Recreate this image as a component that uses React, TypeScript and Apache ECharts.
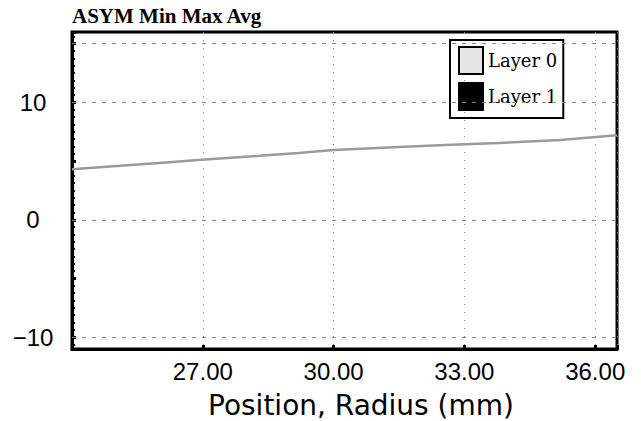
import React, { useEffect, useRef } from "react";
import * as echarts from "echarts";

const titleText = "ASYM Min Max Avg";
const xAxisTitle = "Position, Radius (mm)";
const seriesNames = ["Layer 0", "Layer 1"];
const positions = [24.0, 25.1, 26.0, 26.9, 28.3, 29.2, 30.0, 31.5, 32.7, 33.8, 35.2, 36.5];
const layer0Avg = [4.3, 4.6, 4.85, 5.1, 5.45, 5.7, 5.95, 6.2, 6.4, 6.55, 6.8, 7.2];
const layer1Avg: number[] = [];
const yGridValues = [15, 10, 0, -10];
const yLabelValues = [10, 0, -10];
const xLabelValues = [27, 30, 33, 36];

export default function App() {
  const ref = useRef<HTMLDivElement>(null);
  useEffect(() => {
    if (!ref.current) return;
    const chart = echarts.init(ref.current, undefined, { renderer: "svg" });
    chart.setOption({
      animation: false,
      backgroundColor: "#fff",
      title: {
        text: titleText,
        left: 72,
        top: 5,
        padding: 0,
        textStyle: { fontFamily: "Liberation Serif", fontWeight: "bold", fontSize: 21, color: "#000" },
      },
      legend: {
        orient: "vertical",
        left: 450,
        top: 40,
        padding: [6, 6, 7, 8],
        borderColor: "#000",
        borderWidth: 2,
        itemWidth: 24,
        itemHeight: 27,
        itemGap: 7,
        itemTextGap: 5,
        textStyle: { fontFamily: "DejaVu Serif", fontSize: 18, color: "#000" },
        data: [
          { name: seriesNames[0], icon: "rect", itemStyle: { color: "#e6e6e6", borderColor: "#000", borderWidth: 2 } },
          { name: seriesNames[1], icon: "rect", itemStyle: { color: "#000", borderColor: "#000", borderWidth: 2 } },
        ],
      },
      grid: {
        left: 72,
        top: 32,
        right: 24,
        bottom: 72,
        show: true,
        borderColor: "#000",
        borderWidth: 3,
      },
      xAxis: {
        type: "value",
        min: 24,
        max: 36.5,
        interval: 3,
        axisLine: { show: true, onZero: false, lineStyle: { color: "#000", width: 3 } },
        axisTick: { show: true, inside: true, length: 4, lineStyle: { color: "#000", width: 3 } },
        axisLabel: {
          margin: 10,
          fontFamily: "Liberation Sans",
          fontSize: 24,
          color: "#000",
          formatter: (v: number) => (xLabelValues.includes(v) ? v.toFixed(2) : ""),
        },
        splitLine: { show: true, lineStyle: { color: "#888", width: 1, type: [1, 7] } },
      },
      yAxis: {
        type: "value",
        min: -11,
        max: 16,
        splitNumber: 5,
        axisLine: { show: true, onZero: false, lineStyle: { color: "#000", width: 3 } },
        axisTick: { show: true, inside: true, length: 4, lineStyle: { color: "#000", width: 3 } },
        minorTick: { show: true, splitNumber: 8, length: 3, lineStyle: { color: "#000", width: 2 } },
        axisLabel: {
          margin: 39,
          align: "center",
          fontFamily: "Liberation Sans",
          fontSize: 24,
          color: "#000",
          formatter: (v: number) => (yLabelValues.includes(v) ? (v < 0 ? "\u2212" + Math.abs(v) : String(v)) : ""),
        },
        splitLine: { show: false },
      },
      graphic: [
        {
          type: "text",
          left: 208,
          top: 391,
          style: { text: xAxisTitle, font: "28px 'DejaVu Sans'", fill: "#000" },
        },
      ],
      series: [
        {
          name: seriesNames[0],
          type: "line",
          data: positions.map((p, i) => [p, layer0Avg[i]]),
          showSymbol: false,
          lineStyle: { color: "#9a9a9a", width: 2.5 },
          itemStyle: { color: "#e6e6e6" },
          markLine: {
            silent: true,
            symbol: "none",
            label: { show: false },
            lineStyle: { color: "#888", width: 1, type: [4, 6] },
            data: yGridValues.map((v) => ({ yAxis: v })),
          },
        },
        {
          name: seriesNames[1],
          type: "line",
          data: layer1Avg,
          showSymbol: false,
          lineStyle: { color: "#000", width: 2 },
          itemStyle: { color: "#000" },
        },
      ],
    });
    return () => chart.dispose();
  }, []);
  return <div ref={ref} style={{ position: "fixed", left: 0, top: 0, width: 641, height: 421 }} />;
}
